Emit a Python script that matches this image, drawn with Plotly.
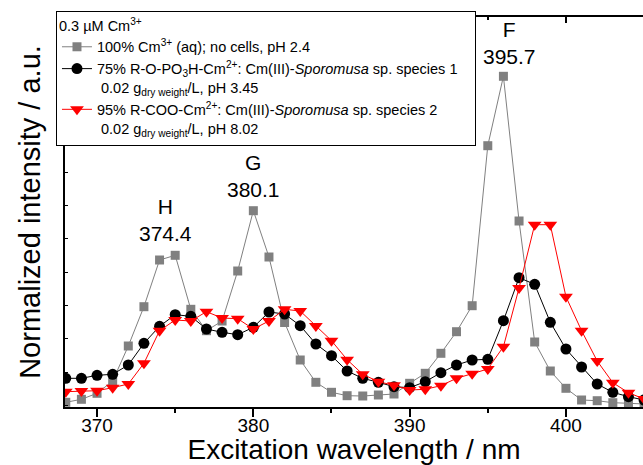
import plotly.graph_objects as go

wavelength = list(range(368, 406))

aq_no_cells = [4.7, 7.7, 13.7, 26, 61, 100.3, 147, 151.7, 97.7, 76.3, 86, 136, 196.3, 150,
               84.5, 47, 24.7, 14.7, 11.3, 11, 12, 13, 23.7, 33.7, 53.7, 75.3, 101.3, 261.3,
               330.7, 186, 65, 36, 18.7, 7, 6.3, 4.3, 3.7, 3]
species1 = [28.7, 28.7, 31.7, 32.7, 42, 63.7, 80.7, 92.3, 90.7, 78, 74.7, 72.3, 79.7, 95, 93,
            81.3, 63, 51.3, 36, 28.7, 24.7, 20.3, 19.3, 25.3, 34.3, 42, 47, 47.7, 86.3, 129.3,
            122.7, 84.7, 58, 40, 23, 14.7, 10.3, 7]
species2 = [15.3, 16, 16.3, 19.3, 23, 43.7, 76.3, 87, 86, 95.3, 89, 88.3, 78, 86, 97.7, 96,
            81, 66.3, 47.3, 32.7, 25.3, 21.7, 17, 17.7, 21.3, 28.7, 33.3, 38, 60.3, 119, 182.3,
            182.3, 110.3, 76.3, 46, 24.3, 14.3, 8]

names = [
    "100% Cm<sup>3+</sup> (aq); no cells, pH 2.4",
    "75% R-O-PO<sub>3</sub>H-Cm<sup>2+</sup>: Cm(III)-<i>Sporomusa</i> sp. species 1&nbsp;&nbsp;&nbsp;"
    "<br>&nbsp;0.02 g<sub>dry weight</sub>/L, pH 3.45",
    "95% R-COO-Cm<sup>2+</sup>: Cm(III)-<i>Sporomusa</i> sp. species 2"
    "<br>&nbsp;0.02 g<sub>dry weight</sub>/L, pH 8.02",
]
legend_title = "0.3 µM Cm<sup>3+</sup>"

peak_labels = ["H<br>374.4", "G<br>380.1", "F<br>395.7"]
peak_x = [374.35, 380.0, 396.4]
peak_y = [187, 231, 364]

FONT = "Liberation Sans, Arial, sans-serif"

fig = go.Figure()
fig.add_trace(go.Scatter(
    x=wavelength, y=aq_no_cells, name=names[0], mode="lines+markers",
    line=dict(color="#808080", width=1),
    marker=dict(symbol="square", size=9, color="#808080"),
))
fig.add_trace(go.Scatter(
    x=wavelength, y=species1, name=names[1], mode="lines+markers",
    line=dict(color="black", width=1),
    marker=dict(symbol="circle", size=11, color="black"),
))
fig.add_trace(go.Scatter(
    x=wavelength, y=species2, name=names[2], mode="lines+markers",
    line=dict(color="#ff0000", width=1),
    marker=dict(symbol="triangle-down", size=12, color="#ff0000"),
))
# invisible trace to carry the top axis
fig.add_trace(go.Scatter(x=[370], y=[0], xaxis="x2", showlegend=False,
                         mode="markers", marker=dict(opacity=0), hoverinfo="skip"))

for t, xx, yy in zip(peak_labels, peak_x, peak_y):
    fig.add_annotation(x=xx, y=yy, text=t, showarrow=False,
                       font=dict(size=21, color="black", family=FONT),
                       xanchor="center", yanchor="middle")

xr = [367.95, 404.93]
fig.update_layout(
    width=643, height=465,
    margin=dict(l=65, r=0, t=17, b=58),
    paper_bgcolor="white", plot_bgcolor="white",
    font=dict(family=FONT, color="black"),
    showlegend=True,
    legend=dict(
        title=dict(text=legend_title, font=dict(size=14.5, family=FONT)),
        font=dict(size=14.5, family=FONT, color="black"),
        x=-0.0156, y=1.0154, xanchor="left", yanchor="top",
        bgcolor="white", bordercolor="black", borderwidth=1,
        valign="top", tracegroupgap=0,
    ),
    xaxis=dict(
        range=xr, showgrid=False, zeroline=False,
        showline=True, linecolor="black", linewidth=1.5,
        ticks="outside", ticklen=8, tickwidth=1.5, tickcolor="black",
        tick0=370, dtick=10, ticklabelstandoff=-8,
        minor=dict(ticks="outside", ticklen=4, tickwidth=1.5, tickcolor="black", dtick=5, tick0=370, showgrid=False),
        tickfont=dict(size=19, family=FONT),
        title=dict(text="Excitation wavelength / nm", font=dict(size=28, family=FONT), standoff=3),
    ),
    xaxis2=dict(
        range=xr, overlaying="x", side="top", showgrid=False, zeroline=False,
        showline=True, linecolor="black", linewidth=1.5,
        ticks="inside", ticklen=6, tickwidth=1.5, tickcolor="black",
        tick0=370, dtick=10, showticklabels=False,
        minor=dict(ticks="inside", ticklen=3, tickwidth=1.5, tickcolor="black", dtick=5, tick0=370, showgrid=False),
    ),
    yaxis=dict(
        range=[0, 390], showgrid=False, zeroline=False,
        showline=True, linecolor="black", linewidth=1.5,
        ticks="inside", ticklen=3, tickwidth=1, tickcolor="black",
        tick0=35, dtick=33.33, showticklabels=False,
        title=dict(text="Normalized intensity / a.u.", font=dict(size=29, family=FONT), standoff=14),
    ),
)

fig.write_html("out.html")
